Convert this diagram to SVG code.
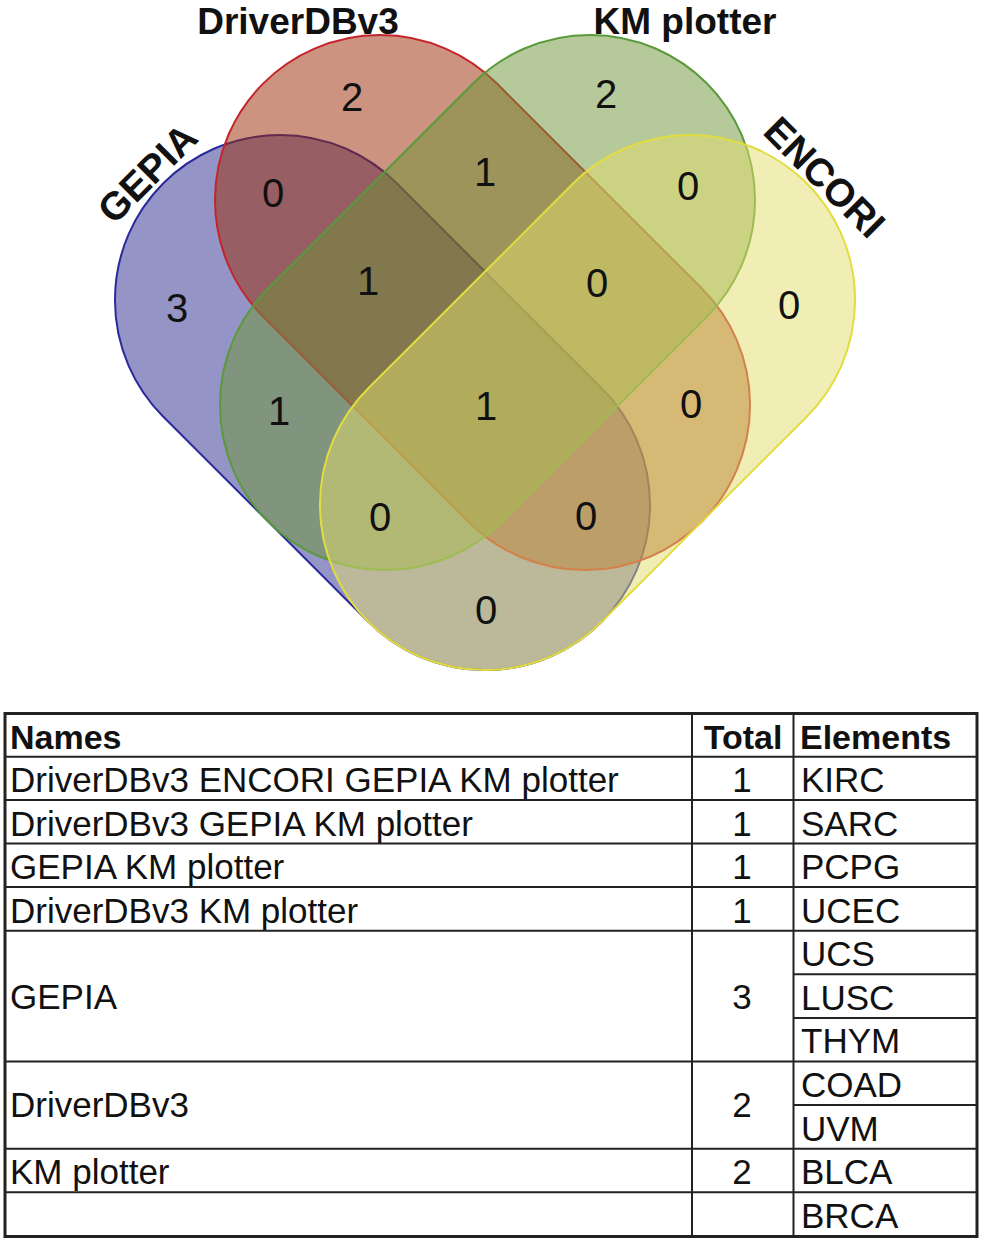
<svg xmlns="http://www.w3.org/2000/svg" width="982" height="1240" viewBox="0 0 982 1240">
<style>
.set{stroke-width:2;fill-opacity:0.5}
.lbl{font-family:"Liberation Sans",Arial,sans-serif;font-weight:bold;font-size:39px;fill:#111}
.top{font-size:37px}
.num{font-family:"Liberation Sans",Arial,sans-serif;font-size:40px;fill:#111;text-anchor:middle}
.tb{font-family:"Liberation Sans",Arial,sans-serif;font-size:35px;fill:#111}
.th{font-family:"Liberation Sans",Arial,sans-serif;font-size:34px;font-weight:bold;fill:#111}
.mid{text-anchor:middle}
.grid{stroke:#222;stroke-width:2;fill:none}
</style>
<rect width="982" height="1240" fill="#fff"/>
<g id="venn">
<g id="set-gepia">
<path class="set" d="M396.7,183.3 L601.7,388.3 A165,165 0 0 1 368.3,621.7 L163.3,416.7 A165,165 0 0 1 396.7,183.3 Z" fill="#29298f" stroke="#2a2a9a"/>
</g>
<g id="set-driverdb">
<path class="set" d="M496.7,83.3 L701.7,288.3 A165,165 0 0 1 468.3,521.7 L263.3,316.7 A165,165 0 0 1 496.7,83.3 Z" fill="#992901" stroke="#c4252a"/>
</g>
<g id="set-kmplotter">
<path class="set" d="M473.3,83.3 A165,165 0 0 1 706.7,316.7 L501.7,521.7 A165,165 0 0 1 268.3,288.3 Z" fill="#6b9335" stroke="#5a9a3a"/>
</g>
<g id="set-encori">
<path class="set" d="M573.3,183.3 A165,165 0 0 1 806.7,416.7 L601.7,621.7 A165,165 0 0 1 368.3,388.3 Z" fill="#e1dd6b" stroke="#e2dc40"/>
</g>
<g id="set-labels">
<text class="lbl top" text-anchor="middle" x="298" y="34">DriverDBv3</text>
<text class="lbl top" text-anchor="middle" x="685" y="34">KM plotter</text>
<text class="lbl" text-anchor="middle" transform="translate(147,173) rotate(-45)" x="0" y="14">GEPIA</text>
<text class="lbl" text-anchor="middle" transform="translate(825,177) rotate(45)" x="0" y="14">ENCORI</text>
</g>
<g id="counts">
<text class="num" x="352" y="111">2</text>
<text class="num" x="606" y="108">2</text>
<text class="num" x="273" y="207">0</text>
<text class="num" x="485" y="186">1</text>
<text class="num" x="688" y="200">0</text>
<text class="num" x="177" y="322">3</text>
<text class="num" x="368" y="295">1</text>
<text class="num" x="597" y="297">0</text>
<text class="num" x="789" y="319">0</text>
<text class="num" x="279" y="425">1</text>
<text class="num" x="486" y="420">1</text>
<text class="num" x="691" y="418">0</text>
<text class="num" x="380" y="531">0</text>
<text class="num" x="586" y="530">0</text>
<text class="num" x="486" y="624">0</text>
</g>
</g>
<g id="table">
<rect x="5" y="713.5" width="972" height="523" fill="none" stroke="#222" stroke-width="3"/>
<g class="grid">
<line x1="692" y1="713" x2="692" y2="1236"/>
<line x1="793.5" y1="713" x2="793.5" y2="1236"/>
<line x1="5" y1="756.7" x2="977" y2="756.7"/>
<line x1="5" y1="800" x2="977" y2="800"/>
<line x1="5" y1="843.5" x2="977" y2="843.5"/>
<line x1="5" y1="887" x2="977" y2="887"/>
<line x1="5" y1="930.7" x2="977" y2="930.7"/>
<line x1="793.5" y1="974.3" x2="977" y2="974.3"/>
<line x1="793.5" y1="1018" x2="977" y2="1018"/>
<line x1="5" y1="1061.5" x2="977" y2="1061.5"/>
<line x1="793.5" y1="1105" x2="977" y2="1105"/>
<line x1="5" y1="1148.7" x2="977" y2="1148.7"/>
<line x1="5" y1="1192.3" x2="977" y2="1192.3"/>
</g>
<text class="th" x="10" y="749">Names</text>
<text class="th mid" x="743" y="749">Total</text>
<text class="th" x="800" y="749">Elements</text>
<text class="tb" x="10" y="792">DriverDBv3 ENCORI GEPIA KM plotter</text>
<text class="tb" x="10" y="835.5">DriverDBv3 GEPIA KM plotter</text>
<text class="tb" x="10" y="879">GEPIA KM plotter</text>
<text class="tb" x="10" y="922.5">DriverDBv3 KM plotter</text>
<text class="tb" x="10" y="1009">GEPIA</text>
<text class="tb" x="10" y="1117">DriverDBv3</text>
<text class="tb" x="10" y="1184">KM plotter</text>
<text class="tb mid" x="742" y="792">1</text>
<text class="tb mid" x="742" y="835.5">1</text>
<text class="tb mid" x="742" y="879">1</text>
<text class="tb mid" x="742" y="922.5">1</text>
<text class="tb mid" x="742" y="1009">3</text>
<text class="tb mid" x="742" y="1117">2</text>
<text class="tb mid" x="742" y="1184">2</text>
<text class="tb" x="801" y="792">KIRC</text>
<text class="tb" x="801" y="835.5">SARC</text>
<text class="tb" x="801" y="879">PCPG</text>
<text class="tb" x="801" y="922.5">UCEC</text>
<text class="tb" x="801" y="966">UCS</text>
<text class="tb" x="801" y="1009.5">LUSC</text>
<text class="tb" x="801" y="1053">THYM</text>
<text class="tb" x="801" y="1097">COAD</text>
<text class="tb" x="801" y="1140.5">UVM</text>
<text class="tb" x="801" y="1184">BLCA</text>
<text class="tb" x="801" y="1228">BRCA</text>
</g>
</svg>
